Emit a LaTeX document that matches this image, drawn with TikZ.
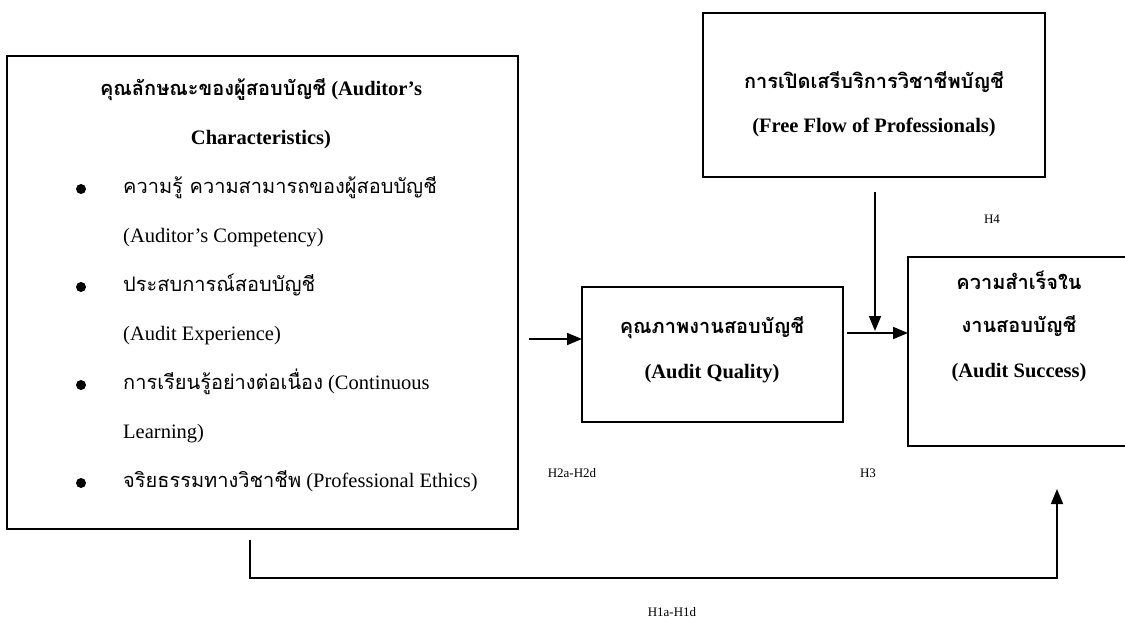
\documentclass[tikz,border=0pt]{standalone}
\usepackage{fontspec}
\setmainfont{Liberation Serif}
\newfontfamily\thaifont[Script=Thai]{Loma}
\usetikzlibrary{arrows.meta}

\newcommand{\thai}[1]{{\thaifont\fontsize{20}{24}\selectfont #1}}

\tikzset{
  box/.style={draw, line width=1.6pt, inner sep=0pt, outer sep=0pt, anchor=north west},
  head/.style={font=\fontsize{20.5}{24}\selectfont\bfseries, inner sep=0pt, text height=0.75em, text depth=0.25em},
  body/.style={font=\fontsize{20.5}{24}\selectfont, anchor=west, inner sep=0pt, text height=0.75em, text depth=0.25em},
  hyp/.style={font=\fontsize{13}{15}\selectfont, inner sep=0pt},
  dot/.style={circle, fill, inner sep=0pt, minimum size=10pt},
  arr/.style={line width=1.7pt, -{Triangle[length=15pt, width=12pt]}},
}

\begin{document}
\begin{tikzpicture}[x=1pt, y=-1pt]
    \useasboundingbox (0,0) rectangle (1125,624);
    \clip (0,0) rectangle (1125,624);

    \node[box, minimum width=511pt, minimum height=473pt] (traits) at (7,56) {};
    \node[head] (t1) at (261,93) {\thai{คุณลักษณะของผู้สอบบัญชี} (Auditor’s};
    \node[head] (t2) at (261,142) {Characteristics)};
    \node[dot] (d1) at (81,189) {};
    \node[body] (b1) at (123,191) {\thai{ความรู้ ความสามารถของผู้สอบบัญชี}};
    \node[body] (b1e) at (123,240) {(Auditor’s Competency)};
    \node[dot] (d2) at (81,287) {};
    \node[body] (b2) at (123,289) {\thai{ประสบการณ์สอบบัญชี}};
    \node[body] (b2e) at (123,338) {(Audit Experience)};
    \node[dot] (d3) at (81,385) {};
    \node[body] (b3) at (123,387) {\thai{การเรียนรู้อย่างต่อเนื่อง} (Continuous};
    \node[body] (b3e) at (123,436) {Learning)};
    \node[dot] (d4) at (81,483) {};
    \node[body] (b4) at (123,485) {\thai{จริยธรรมทางวิชาชีพ} (Professional Ethics)};

    \node[box, minimum width=342pt, minimum height=164pt] (flow) at (703,13) {};
    \node[head] (f1) at (874,86) {\thai{การเปิดเสรีบริการวิชาชีพบัญชี}};
    \node[head] (f2) at (874,130) {(Free Flow of Professionals)};

    \node[box, minimum width=261pt, minimum height=135pt] (quality) at (582,287) {};
    \node[head] (q1) at (712,331) {\thai{คุณภาพงานสอบบัญชี}};
    \node[head] (q2) at (712,376) {(Audit Quality)};

    \node[box, minimum width=240pt, minimum height=189pt] (success) at (908,257) {};
    \node[head] (s1) at (1019,287) {\thai{ความสำเร็จใน}};
    \node[head] (s2) at (1019,330) {\thai{งานสอบบัญชี}};
    \node[head] (s3) at (1019,375) {(Audit Success)};

    \coordinate (qin) at (529,339);
    \coordinate (qout) at (847,333);
    \coordinate (modtop) at (875,192);
    \coordinate (mod) at (875,331);
    \coordinate (h1from) at (250,540);
    \coordinate (h1low) at (250,578);
    \coordinate (h1to) at (1057,489);

    \draw[arr] (qin) -- (qin -| quality.west);
    \draw[arr] (qout) -- (qout -| success.west);
    \draw[arr] (modtop) -- (mod);
    \draw[arr] (h1from) -- (h1low) -| (h1to);

    \node[hyp] (h4) at (992,219) {H4};
    \node[hyp] (h2) at (572,473) {H2a-H2d};
    \node[hyp] (h3) at (868,473) {H3};
    \node[hyp] (h1) at (672,612) {H1a-H1d};
\end{tikzpicture}
\end{document}
